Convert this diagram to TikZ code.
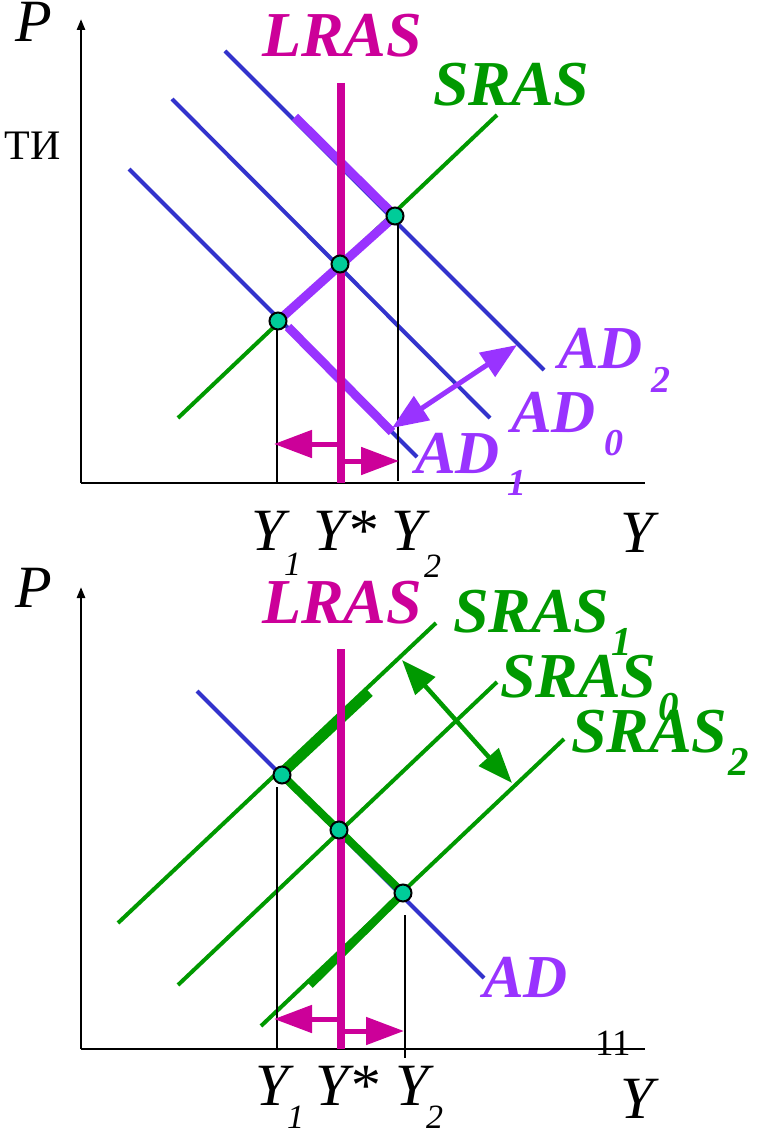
\documentclass[tikz,border=0pt]{standalone}
\usepackage{fontspec}
\setmainfont{Liberation Serif}
\newfontfamily\bifont{Liberation Serif Bold Italic}
\usetikzlibrary{arrows.meta}
\definecolor{mag}{HTML}{CC0099}
\definecolor{grn}{HTML}{009900}
\definecolor{blu}{HTML}{3333CC}
\definecolor{pur}{HTML}{9933FF}
\definecolor{dotc}{HTML}{00CC99}
\newcommand\fsz[1]{\fontsize{#1}{#1}\selectfont}
\begin{document}
\begin{tikzpicture}[x=1pt,y=-1pt,
  lbl/.style={inner sep=0pt, outer sep=0pt, anchor=base west},
  axlbl/.style={lbl, font=\fsz{60}\itshape},
  sublbl/.style={lbl, font=\fsz{34}\itshape},
  clbl/.style={lbl, font=\bifont\fsz{64}},
  adlbl/.style={lbl, font=\bifont\fsz{61}},
  csub/.style={lbl, font=\bifont\fsz{38}},
  ssub/.style={lbl, font=\bifont\fsz{41}},
  adline/.style={blu, line width=4pt},
  srline/.style={grn, line width=4pt},
  lrline/.style={mag, line width=8pt},
  guide/.style={black, line width=2pt},
  axisline/.style={black, line width=2.5pt},
  axisarrow/.style={axisline, -{Triangle[length=11pt,width=8pt]}},
  eqdot/.style={circle, fill=dotc, draw=black, line width=2pt, minimum size=17pt, inner sep=0pt},
  thickp/.style={pur, line width=9pt},
  thickg/.style={grn, line width=8pt},
  magarrow/.style={mag, line width=5pt, -{Triangle[length=38pt,width=27pt]}},
  purarrow/.style={pur, line width=5pt, {Triangle[length=36pt,width=28pt]}-{Triangle[length=36pt,width=28pt]}},
  grnarrow/.style={grn, line width=4.5pt, {Triangle[length=35pt,width=26pt]}-{Triangle[length=35pt,width=26pt]}}
]
\useasboundingbox (0,0) rectangle (761,1131);

% ================= TOP PANEL =================
\coordinate (tO) at (81,483);
\coordinate (tYend) at (81,19);
\coordinate (tXend) at (645,483);
\draw[axisline] (tO) -- (tXend);
\draw[axisarrow] (tO) -- (tYend);

% AD curves
\coordinate (ad2a) at (225,51);  \coordinate (ad2b) at (544,370);
\coordinate (ad0a) at (172,99);  \coordinate (ad0b) at (490,418);
\coordinate (ad1a) at (129,169); \coordinate (ad1b) at (417,457);
\draw[adline] (ad2a) -- (ad2b);
\draw[adline] (ad0a) -- (ad0b);
\draw[adline] (ad1a) -- (ad1b);
% SRAS
\coordinate (sra) at (178,418); \coordinate (srb) at (497,115);
\draw[srline] (sra) -- (srb);

% equilibrium points
\coordinate (e1) at (278,321);
\coordinate (e0) at (340,264);
\coordinate (e2) at (395,216);

% thick purple path
\coordinate (p1) at (295,117);
\coordinate (p2) at (288,327);
\coordinate (p3) at (392,432);
\draw[thickp] (p1) -- (e2);
\draw[thickp] (e1) -- (e2);
\draw[thickp] (p2) -- (p3);

% LRAS
\coordinate (lra) at (341,83); \coordinate (lrb) at (341,483);
\draw[lrline] (lra) -- (lrb);

% guides
\coordinate (g1a) at (277,321); \coordinate (g1b) at (277,483);
\coordinate (g2a) at (398,216); \coordinate (g2b) at (398,481);
\draw[guide] (g1a) -- (g1b);
\draw[guide] (g2a) -- (g2b);

% magenta arrows
\coordinate (ma1) at (343,444); \coordinate (mb1) at (274,444);
\coordinate (ma2) at (339,461); \coordinate (mb2) at (399,461);
\draw[magarrow] (ma1) -- (mb1);
\draw[magarrow] (ma2) -- (mb2);

% purple arrow
\coordinate (pa) at (392,428); \coordinate (pb) at (517,345);
\draw[purarrow] (pa) -- (pb);

\node[eqdot] (n1) at (e1) {};
\node[eqdot] (n0) at (e0) {};
\node[eqdot] (n2) at (e2) {};

% labels
\node[axlbl] (tP) at (16,42) {P};
\node[lbl, font=\fsz{42}] (tTI) at (5,160) {ТИ};
\node[clbl, text=mag] (tLRAS) at (262,57) {LRAS};
\node[clbl, text=grn] (tSRAS) at (433,106) {SRAS};
\node[adlbl, text=pur] (tAD2) at (558,368) {AD};
\node[csub, text=pur] (tAD2s) at (651,392) {2};
\node[adlbl, text=pur] (tAD0) at (511,432) {AD};
\node[csub, text=pur] (tAD0s) at (604,455) {0};
\node[adlbl, text=pur] (tAD1) at (415,473) {AD};
\node[csub, text=pur] (tAD1s) at (507,495) {1};
\node[axlbl] (tY1) at (251,550) {Y};
\node[sublbl] (tY1s) at (284,575) {1};
\node[axlbl] (tYs) at (313,550) {Y*};
\node[axlbl] (tY2) at (391,550) {Y};
\node[sublbl] (tY2s) at (424,577) {2};
\node[axlbl] (tY) at (620,552) {Y};

% ================= BOTTOM PANEL =================
\coordinate (bO) at (81,1049);
\coordinate (bYend) at (81,587);
\coordinate (bXend) at (645,1049);
\draw[axisline] (bO) -- (bXend);
\draw[axisarrow] (bO) -- (bYend);

\coordinate (ada) at (197,691); \coordinate (adb) at (484,978);
\draw[adline] (ada) -- (adb);
\coordinate (s1a) at (118,923); \coordinate (s1b) at (436,623);
\coordinate (s0a) at (178,985); \coordinate (s0b) at (497,682);
\coordinate (s2a) at (261,1026); \coordinate (s2b) at (564,739);
\draw[srline] (s1a) -- (s1b);
\draw[srline] (s0a) -- (s0b);
\draw[srline] (s2a) -- (s2b);

\coordinate (f1) at (282,775);
\coordinate (f0) at (339,830);
\coordinate (f2) at (403,893);
\coordinate (q1) at (370,693);
\coordinate (q2) at (310,985);
\draw[thickg] (f1) -- (q1);
\draw[thickg] (f1) -- (f2);
\draw[thickg] (q2) -- (f2);

\coordinate (blra) at (341,649); \coordinate (blrb) at (341,1049);
\draw[lrline] (blra) -- (blrb);

\coordinate (h1a) at (277,787); \coordinate (h1b) at (277,1049);
\coordinate (h2a) at (405,915); \coordinate (h2b) at (405,1058);
\draw[guide] (h1a) -- (h1b);
\draw[guide] (h2a) -- (h2b);

\coordinate (bma1) at (343,1019); \coordinate (bmb1) at (274,1019);
\coordinate (bma2) at (339,1031); \coordinate (bmb2) at (404,1031);
\draw[magarrow] (bma1) -- (bmb1);
\draw[magarrow] (bma2) -- (bmb2);

\coordinate (ga) at (402,660); \coordinate (gb) at (512,783);
\draw[grnarrow] (ga) -- (gb);

\node[eqdot] (m1) at (f1) {};
\node[eqdot] (m0) at (f0) {};
\node[eqdot] (m2) at (f2) {};

\node[axlbl] (bP) at (16,607) {P};
\node[clbl, text=mag] (bLRAS) at (262,623) {LRAS};
\node[clbl, text=grn] (bS1) at (453,632) {SRAS};
\node[ssub, text=grn] (bS1s) at (611,655) {1};
\node[clbl, text=grn] (bS0) at (500,697) {SRAS};
\node[ssub, text=grn] (bS0s) at (658,720) {0};
\node[clbl, text=grn] (bS2) at (571,752) {SRAS};
\node[ssub, text=grn] (bS2s) at (728,775) {2};
\node[adlbl, text=pur] (bAD) at (483,997) {AD};
\node[lbl, font=\fsz{37}] (bpg) at (595,1055) {11};
\node[axlbl] (bY1) at (255,1105) {Y};
\node[sublbl] (bY1s) at (287,1128) {1};
\node[axlbl] (bYs) at (315,1105) {Y*};
\node[axlbl] (bY2) at (395,1105) {Y};
\node[sublbl] (bY2s) at (426,1128) {2};
\node[axlbl] (bY) at (620,1118) {Y};
\end{tikzpicture}
\end{document}
